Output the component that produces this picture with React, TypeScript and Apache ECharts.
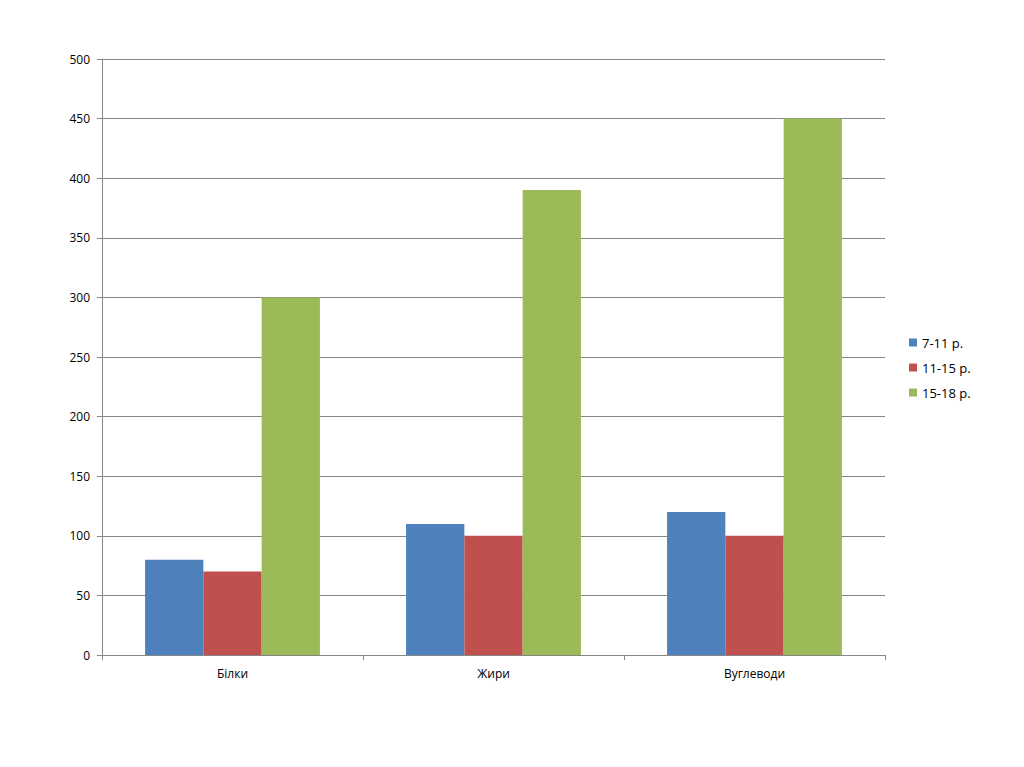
import React, { useEffect, useRef } from "react";
import * as echarts from "echarts";

const categories = ["Білки", "Жири", "Вуглеводи"];
const seriesNames = ["7-11 р.", "11-15 р.", "15-18 р."];
const values7to11 = [80, 110, 120];
const values11to15 = [70, 100, 100];
const values15to18 = [300, 390, 450];
const colors = ["#4F81BD", "#C0504D", "#9BBB59"];

export default function App() {
  const ref = useRef<HTMLDivElement>(null);
  useEffect(() => {
    if (!ref.current) return;
    const chart = echarts.init(ref.current, null, { renderer: "svg" });
    const font = "'Open Sans', 'Noto Sans', sans-serif";
    const data = [values7to11, values11to15, values15to18];
    chart.setOption({
      animation: false,
      backgroundColor: "#ffffff",
      textStyle: { fontFamily: font },
      grid: { left: 102, right: 139, top: 59, bottom: 112 },
      legend: {
        orient: "vertical",
        left: 904,
        top: 331,
        itemWidth: 8,
        itemHeight: 8,
        itemGap: 12,
        icon: "rect",
        textStyle: { fontFamily: font, fontSize: 13, color: "#000" },
        data: seriesNames,
      },
      xAxis: {
        type: "category",
        data: categories,
        axisLine: { lineStyle: { color: "#868686" } },
        axisTick: { show: true, length: 5, lineStyle: { color: "#868686" } },
        axisLabel: { margin: 12, fontSize: 12, color: "#000", fontFamily: font },
      },
      yAxis: {
        type: "value",
        min: 0,
        max: 500,
        interval: 50,
        axisLine: { show: true, lineStyle: { color: "#868686" } },
        axisTick: { show: true, length: 5, lineStyle: { color: "#868686" } },
        axisLabel: { margin: 12, fontSize: 12, color: "#000", fontFamily: font },
        splitLine: { lineStyle: { color: "#868686" } },
      },
      series: seriesNames.map((name, i) => ({
        name,
        type: "bar",
        data: data[i],
        barGap: "0%",
        barCategoryGap: "33%",
        itemStyle: { color: colors[i] },
      })),
    });
    return () => chart.dispose();
  }, []);
  return (
    <div
      ref={ref}
      style={{ position: "fixed", left: 0, top: 0, width: 1024, height: 767 }}
    />
  );
}
